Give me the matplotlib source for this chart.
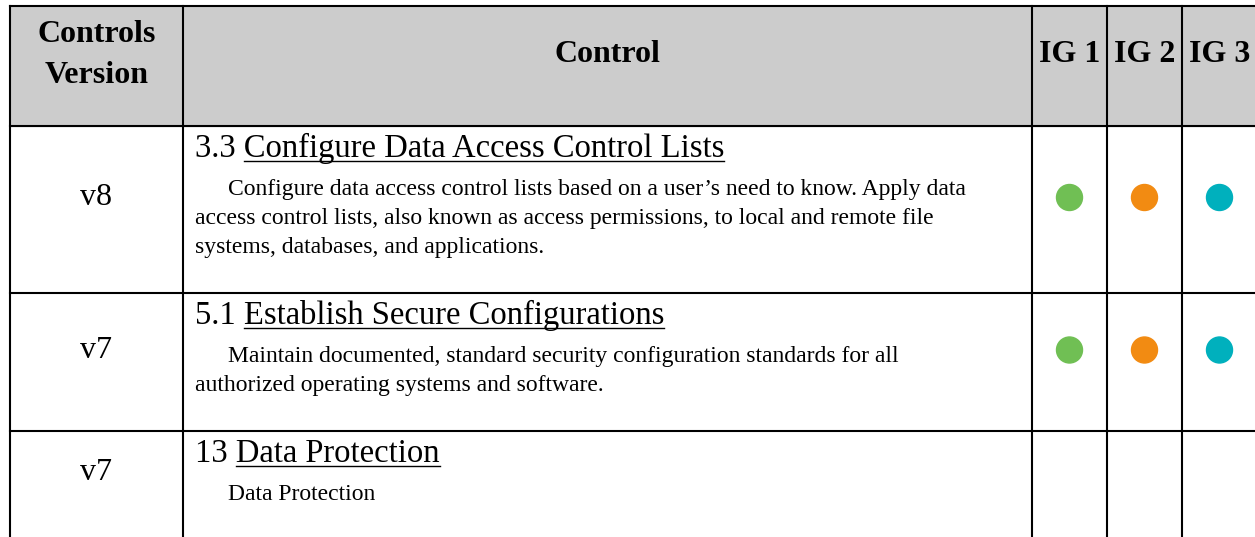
import matplotlib.pyplot as plt
from matplotlib.patches import Rectangle, Circle

# table content
headers = ["Controls\nVersion", "Control", "IG 1", "IG 2", "IG 3"]
versions = ["v8", "v7", "v7"]
control_ids = ["3.3", "5.1", "13"]
control_titles = ["Configure Data Access Control Lists",
                  "Establish Secure Configurations",
                  "Data Protection"]
descriptions = [
    ["Configure data access control lists based on a user\u2019s need to know. Apply data",
     "access control lists, also known as access permissions, to local and remote file",
     "systems, databases, and applications."],
    ["Maintain documented, standard security configuration standards for all",
     "authorized operating systems and software."],
    ["Data Protection"],
]
ig1 = [True, True, False]
ig2 = [True, True, False]
ig3 = [True, True, False]
ig_colors = ["#70BF54", "#F28B12", "#00B0BD"]

W, H = 1255, 537
fig = plt.figure(figsize=(W / 100, H / 100), dpi=100)
ax = fig.add_axes([0, 0, 1, 1])
ax.set_xlim(0, W)
ax.set_ylim(H, 0)
ax.axis("off")

font = "Liberation Serif"
col_edges = [10, 183, 1032, 1107, 1182]
row_edges = [6, 126, 293, 431, H + 5]
lw = 1.5

# header background
ax.add_patch(Rectangle((col_edges[0], row_edges[0]), W - col_edges[0],
                       row_edges[1] - row_edges[0], color="#CCCCCC", zorder=0))

# grid lines
for x in col_edges:
    ax.plot([x, x], [row_edges[0], H], color="black", lw=lw, zorder=3)
for y in row_edges[:-1]:
    ax.plot([col_edges[0], W], [y, y], color="black", lw=lw, zorder=3)

# header text
hx = [(col_edges[i] + col_edges[i + 1]) / 2 for i in range(4)] + [(col_edges[4] + W + 2) / 2]
ax.text(hx[0], 42, "Controls", ha="center", va="baseline", fontsize=23,
        fontweight="bold", family=font)
ax.text(hx[0], 83, "Version", ha="center", va="baseline", fontsize=23,
        fontweight="bold", family=font)
for i in range(1, 5):
    ax.text(hx[i], 62, headers[i], ha="center", va="baseline", fontsize=23,
            fontweight="bold", family=font)

fig.canvas.draw()
renderer = fig.canvas.get_renderer()
inv = ax.transData.inverted()


def x_extent(t):
    bb = t.get_window_extent(renderer=renderer)
    x0 = inv.transform((bb.x0, bb.y0))[0]
    x1 = inv.transform((bb.x1, bb.y1))[0]
    return x0, x1


text_x = 195
indent = 33
flags = list(zip(ig1, ig2, ig3))
for r in range(len(versions)):
    top, bottom = row_edges[r + 1], row_edges[r + 2]
    mid = min((top + bottom) / 2, (top + H) / 2) - 12

    ax.text(hx[0], mid, versions[r], ha="center", va="center", fontsize=23,
            family=font)

    # title with underlined name
    base = top + 31
    full = ax.text(text_x, base, control_ids[r] + " " + control_titles[r],
                   va="baseline", fontsize=23.5, family=font)
    name = ax.text(0, -100, control_titles[r], va="baseline", fontsize=23.5,
                   family=font)
    fx0, fx1 = x_extent(full)
    nx0, nx1 = x_extent(name)
    name.remove()
    ax.plot([fx1 - (nx1 - nx0), fx1], [base + 4, base + 4], color="black",
            lw=1.0, zorder=3)

    for i, line in enumerate(descriptions[r]):
        ax.text(text_x + (indent if i == 0 else 0), top + 69 + 29 * i, line,
                va="baseline", fontsize=17, family=font)

    for c, on in enumerate(flags[r]):
        if on:
            ax.add_patch(Circle((hx[c + 2], mid), 13, color=ig_colors[c], zorder=4))

fig.savefig("out.png", dpi=100)
